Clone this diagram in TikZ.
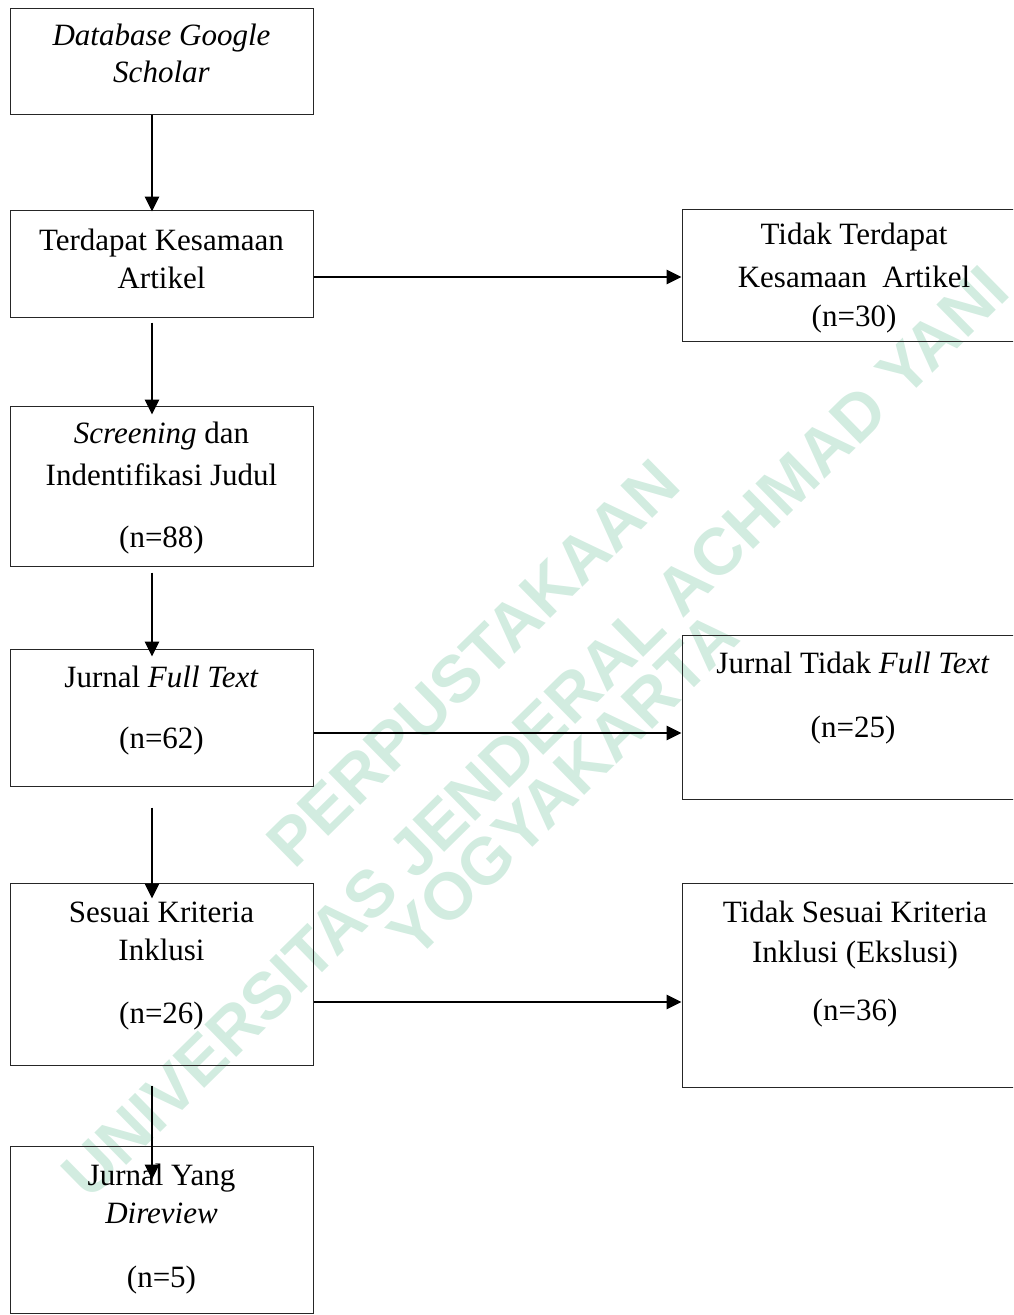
\documentclass[tikz,border=0pt]{standalone}
\usepackage{fontspec}
\setmainfont{Liberation Serif}
\newfontfamily\wmfont{Liberation Sans}
\usetikzlibrary{arrows.meta}
\definecolor{wm}{RGB}{210,236,224}
\begin{document}
\begin{tikzpicture}[x=1pt,y=-1pt,
  box/.style={draw=black!85, line width=1pt, inner sep=0pt, minimum width=303pt},
  rbox/.style={box, minimum width=346pt},
  txt/.style={anchor=base, inner sep=0pt, font=\fontsize{31}{38}\selectfont},
  arr/.style={line width=2.8pt, -{Triangle[length=15pt,width=14pt]}},
  wmtxt/.style={text=wm, font=\wmfont\bfseries\fontsize{66}{74}\selectfont, rotate=44.5, inner sep=0pt}]
\useasboundingbox (0,0) rectangle (1013,1315);
\clip (0,0) rectangle (1013,1315);
% watermark
\node[wmtxt] (w1) at (473,663) {PERPUSTAKAAN};
\node[wmtxt] (w2) at (535,732) {UNIVERSITAS JENDERAL ACHMAD YANI};
\node[wmtxt] (w3) at (563,785) {YOGYAKARTA};
% boxes
\node[box, minimum height=106pt] (b1) at (161.5,61) {};
\node[box, minimum height=107pt] (b2) at (161.5,263.5) {};
\node[box, minimum height=160pt] (b3) at (161.5,486) {};
\node[box, minimum height=137pt] (b4) at (161.5,717.5) {};
\node[box, minimum height=182pt] (b5) at (161.5,974) {};
\node[box, minimum height=167pt] (b6) at (161.5,1229.5) {};
\node[rbox, minimum height=132pt] (r1) at (855,275) {};
\node[rbox, minimum height=164pt] (r2) at (855,717) {};
\node[rbox, minimum height=204pt] (r3) at (855,985) {};
% texts
\node[txt] (t1a) at (161.5,45) {\textit{Database Google}};
\node[txt] (t1b) at (161.5,82) {\textit{Scholar}};
\node[txt] (t2a) at (161.5,250) {Terdapat Kesamaan};
\node[txt] (t2b) at (161.5,288) {Artikel};
\node[txt] (t3a) at (161.5,443) {\textit{Screening} dan};
\node[txt] (t3b) at (161.5,485) {Indentifikasi Judul};
\node[txt] (t3c) at (161.5,547) {(n=88)};
\node[txt] (t4a) at (161.5,687) {Jurnal \textit{Full Text}};
\node[txt] (t4b) at (161.5,748) {(n=62)};
\node[txt] (t5a) at (161.5,922) {Sesuai Kriteria};
\node[txt] (t5b) at (161.5,960) {Inklusi};
\node[txt] (t5c) at (161.5,1023) {(n=26)};
\node[txt] (t6a) at (161.5,1185) {Jurnal Yang};
\node[txt] (t6b) at (161.5,1223) {\textit{Direview}};
\node[txt] (t6c) at (161.5,1287) {(n=5)};
\node[txt] (u1a) at (854,244) {Tidak Terdapat};
\node[txt] (u1b) at (854,287) {Kesamaan\ \ Artikel};
\node[txt] (u1c) at (854,326) {(n=30)};
\node[txt] (u2a) at (853,673) {Jurnal Tidak \textit{Full Text}};
\node[txt] (u2b) at (853,737) {(n=25)};
\node[txt] (u3a) at (855,922) {Tidak Sesuai Kriteria};
\node[txt] (u3b) at (855,962) {Inklusi (Ekslusi)};
\node[txt] (u3c) at (855,1020) {(n=36)};
% connector coordinates
\coordinate (ax) at (152,0);
\coordinate (h1) at (0,277);
\coordinate (h2) at (0,733);
\coordinate (h3) at (0,1002);
% vertical arrows
\draw[arr, shorten >=-2pt] (b1.south -| ax) -- (b2.north -| ax);
\draw[arr, shorten <=5pt, shorten >=-9pt] (b2.south -| ax) -- (b3.north -| ax);
\draw[arr, shorten <=6pt, shorten >=-8pt] (b3.south -| ax) -- (b4.north -| ax);
\draw[arr, shorten <=21pt, shorten >=-16pt] (b4.south -| ax) -- (b5.north -| ax);
\draw[arr, shorten <=20pt, shorten >=-34pt] (b5.south -| ax) -- (b6.north -| ax);
% horizontal arrows
\draw[arr] (b2.east |- h1) -- (r1.west |- h1);
\draw[arr] (b4.east |- h2) -- (r2.west |- h2);
\draw[arr] (b5.east |- h3) -- (r3.west |- h3);
\end{tikzpicture}
\end{document}
